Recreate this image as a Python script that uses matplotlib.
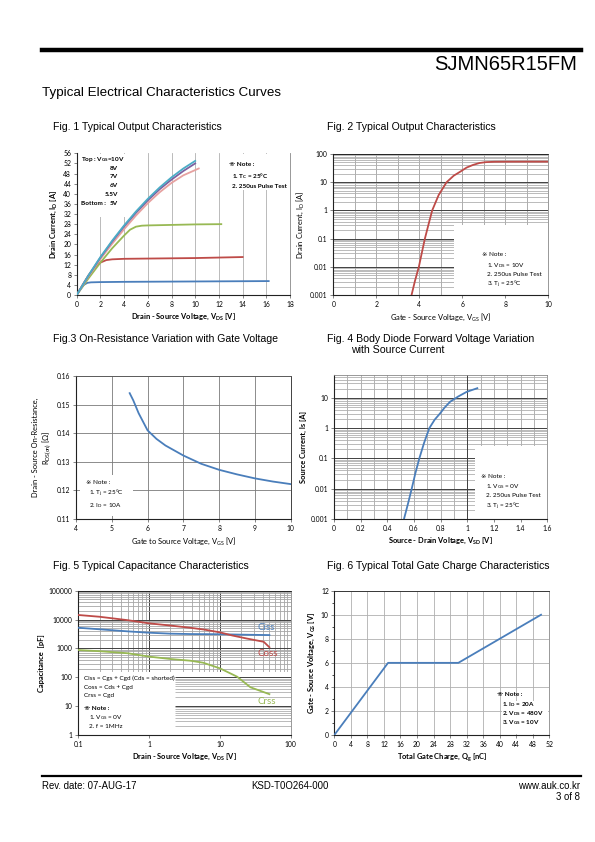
import matplotlib
matplotlib.use("Agg")
import matplotlib.pyplot as plt
from matplotlib.patches import Rectangle
from matplotlib.ticker import FixedLocator, NullFormatter, LogLocator

W, H = 595, 842

# ---- data ----
# Fig. 1 output characteristics (VDS [V], ID [A]) per VGS
f1_vds_10v = [0, 1, 2, 3, 4, 5, 6, 7, 8, 9, 10]
f1_id_10v = [0, 7.8, 15.0, 21.5, 27.5, 33.0, 38.0, 42.5, 46.5, 50.0, 53.0]
f1_vds_8v = [0, 1, 2, 3, 4, 5, 6, 7, 8, 9, 10]
f1_id_8v = [0, 7.7, 14.8, 21.2, 27.1, 32.5, 37.4, 41.8, 45.6, 49.0, 52.0]
f1_vds_7v = [0, 1, 2, 3, 4, 5, 6, 7, 8, 9, 10.3]
f1_id_7v = [0, 7.4, 14.2, 20.3, 26.0, 31.4, 36.3, 40.6, 44.3, 47.3, 50.0]
f1_vds_6v = [0, 1, 2, 3, 4, 4.5, 5, 5.5, 6, 8, 10, 12.2]
f1_id_6v = [0, 6.6, 12.8, 18.5, 23.5, 25.8, 27.0, 27.4, 27.5, 27.7, 27.9, 28.0]
f1_vds_55v = [0, 0.5, 1, 1.5, 2, 2.5, 3, 4, 6, 8, 10, 12, 14]
f1_id_55v = [0, 4.0, 7.8, 10.8, 12.8, 13.8, 14.1, 14.3, 14.4, 14.5, 14.6, 14.8, 15.0]
f1_vds_5v = [0, 0.3, 0.6, 0.9, 1.2, 2, 4, 8, 12, 16.2]
f1_id_5v = [0, 2.2, 4.0, 4.8, 5.0, 5.1, 5.2, 5.3, 5.4, 5.5]
f1_xticks = [0, 2, 4, 6, 8, 10, 12, 14, 16, 18]
f1_yticks = [0, 4, 8, 12, 16, 20, 24, 28, 32, 36, 40, 44, 48, 52, 56]

# Fig. 2 transfer characteristics
f2_vgs = [3.64, 3.8, 3.98, 4.12, 4.26, 4.43, 4.6, 4.9, 5.27, 5.6, 5.9, 6.2, 6.5, 6.8, 7.1, 7.5, 8, 9, 10]
f2_id = [0.001, 0.0032, 0.01, 0.032, 0.1, 0.32, 1, 3.5, 10, 17, 23.5, 33, 41, 48, 51.5, 53, 53.3, 53.5, 53.5]
f2_yticks = [0.001, 0.01, 0.1, 1, 10, 100]
f2_ylabels = ["0.001", "0.01", "0.1", "1", "10", "100"]

# Fig. 3 RDS(on) vs VGS
f3_vgs = [5.5, 5.6, 5.75, 6, 6.25, 6.5, 7, 7.5, 8, 8.5, 9, 9.5, 10]
f3_rds = [0.154, 0.1515, 0.147, 0.141, 0.138, 0.1357, 0.1322, 0.1293, 0.1272, 0.1256, 0.1242, 0.1231, 0.1222]
f3_yticks = [0.11, 0.12, 0.13, 0.14, 0.15, 0.16]

# Fig. 4 body diode
f4_vsd = [0.525, 0.555, 0.583, 0.61, 0.64, 0.675, 0.715, 0.755, 0.795, 0.83, 0.87, 0.93, 0.995, 1.075]
f4_is = [0.001, 0.0032, 0.01, 0.032, 0.1, 0.32, 1, 1.9, 3.05, 4.8, 7.4, 11, 15.8, 20.9]
f4_xticks = [0, 0.2, 0.4, 0.6, 0.8, 1, 1.2, 1.4, 1.6]
f4_xlabels = ["0", "0.2", "0.4", "0.6", "0.8", "1", "1.2", "1.4", "1.6"]
f4_yticks = [0.001, 0.01, 0.1, 1, 10]
f4_ylabels = ["0.001", "0.01", "0.1", "1", "10"]

# Fig. 5 capacitance
f5_vds_ciss = [0.1, 0.2, 0.5, 1, 2, 3.8, 10, 20, 50]
f5_ciss = [5200, 4600, 3900, 3500, 3250, 3150, 3100, 3000, 2900]
f5_vds_coss = [0.1, 0.2, 0.5, 1, 2, 3.8, 6, 10, 15, 24, 41.5, 50]
f5_coss = [14400, 12500, 9500, 7400, 6200, 5200, 4500, 3600, 2800, 2200, 1700, 1100]
f5_vds_crss = [0.1, 0.2, 0.5, 1, 2, 3.8, 5.8, 10, 17.5, 27, 50]
f5_crss = [880, 800, 680, 520, 430, 376, 320, 204, 105, 45, 26]
f5_xticks = [0.1, 1, 10, 100]
f5_xlabels = ["0.1", "1", "10", "100"]
f5_yticks = [1, 10, 100, 1000, 10000, 100000]
f5_ylabels = ["1", "10", "100", "1000", "10000", "100000"]

# Fig. 6 gate charge
f6_qg = [0, 13, 30, 50]
f6_vgs = [0, 6, 6, 10]
f6_xticks = list(range(0, 53, 4))
f6_yticks = [0, 2, 4, 6, 8, 10, 12]

BLUE = "#4a7ebb"
RED = "#be4b48"
GREEN = "#98b954"
PURPLE = "#7d60a0"
AQUA = "#4bacc6"
PINK = "#e6a1a0"

plt.rcParams["font.family"] = ["Lato", "DejaVu Sans"]
plt.rcParams["mathtext.default"] = "regular"
PAGE = ["Liberation Sans Narrow", "Liberation Sans", "DejaVu Sans"]

fig = plt.figure(figsize=(W / 100, H / 100), dpi=100)


def make_ax(l, t, r, b):
    return fig.add_axes([l / W, 1 - b / H, (r - l) / W, (b - t) / H])


def ftext(x, y, s, **kw):
    kw.setdefault("va", "center")
    fig.text(x / W, 1 - y / H, s, **kw)


def style(ax):
    ax.set_axisbelow(True)
    ax.tick_params(labelsize=4.9, length=2, width=0.5, pad=2, color="#555")
    for side in ["left", "bottom"]:
        ax.spines[side].set_color("#222")
        ax.spines[side].set_linewidth(0.8)
    for side in ["top", "right"]:
        ax.spines[side].set_color("#888")
        ax.spines[side].set_linewidth(0.6)


def white_box(ax, x0, y0, x1, y1):
    ax.add_patch(Rectangle((x0, y0), x1 - x0, y1 - y0, facecolor="white",
                           edgecolor="none", zorder=1))


# ---- page header / footer ----
fig.add_artist(plt.Line2D([42 / W, 581 / W], [1 - 50 / H, 1 - 50 / H], color="black", lw=3.2))
ftext(577, 64, "SJMN65R15FM", ha="right", fontsize=14.5, family=PAGE)
ftext(42, 93, "Typical Electrical Characteristics Curves", fontsize=9.6, family=PAGE)
fig.add_artist(plt.Line2D([42 / W, 581 / W], [1 - 776 / H, 1 - 776 / H], color="black", lw=1.6))
ftext(42, 786, "Rev. date: 07-AUG-17", fontsize=6.9, family=PAGE)
ftext(290, 786, "KSD-T0O264-000", ha="center", fontsize=6.9, family=PAGE)
ftext(580, 786, "www.auk.co.kr", ha="right", fontsize=6.9, family=PAGE)
ftext(580, 797, "3 of 8", ha="right", fontsize=6.9, family=PAGE)

title_fs = 7.6
ftext(53, 127, "Fig. 1 Typical Output Characteristics", fontsize=title_fs, family=PAGE)
ftext(327, 127, "Fig. 2 Typical Output Characteristics", fontsize=title_fs, family=PAGE)
ftext(53, 339, "Fig.3 On-Resistance Variation with Gate Voltage", fontsize=title_fs, family=PAGE)
ftext(327, 339, "Fig. 4 Body Diode Forward Voltage Variation", fontsize=title_fs, family=PAGE)
ftext(351, 350, "with Source Current", fontsize=title_fs, family=PAGE)
ftext(53, 566, "Fig. 5 Typical Capacitance Characteristics", fontsize=title_fs, family=PAGE)
ftext(327, 566, "Fig. 6 Typical Total Gate Charge Characteristics", fontsize=title_fs, family=PAGE)

note_fs = 4.6
lab_fs = 5.4

# ---- Fig. 1 ----
ax1 = make_ax(76.7, 153.3, 290, 295)
style(ax1)
ax1.spines["top"].set_visible(False)
ax1.set_xlim(0, 18)
ax1.set_ylim(0, 56)
ax1.set_xticks(f1_xticks)
ax1.set_yticks(f1_yticks)
ax1.grid(axis="x", color="#b0b0b0", lw=0.6)
white_box(ax1, 0.05, 31, 5.0, 55.9)
white_box(ax1, 12.3, 41.5, 17.95, 55.9)
ax1.plot(f1_vds_5v, f1_id_5v, color=BLUE, lw=1.3, zorder=3)
ax1.plot(f1_vds_55v, f1_id_55v, color=RED, lw=1.3, zorder=3)
ax1.plot(f1_vds_6v, f1_id_6v, color=GREEN, lw=1.3, zorder=3)
ax1.plot(f1_vds_7v, f1_id_7v, color=PINK, lw=1.3, zorder=3)
ax1.plot(f1_vds_8v, f1_id_8v, color=PURPLE, lw=1.3, zorder=3)
ax1.plot(f1_vds_10v, f1_id_10v, color=AQUA, lw=1.3, zorder=3)
ax1.set_xlabel("Drain - Source Voltage, V$_{DS}$ [V]", fontsize=lab_fs, fontweight="bold", labelpad=3)
ax1.set_ylabel("Drain Current, I$_D$ [A]", fontsize=lab_fs, fontweight="bold", labelpad=3)
ftext(81, 159.5, "Top : V$_{GS}$=10V", fontsize=note_fs, fontweight="bold")
for yy, s in zip([168.5, 177, 185.5, 194.5], ["8V", "7V", "6V", "5.5V"]):
    ftext(118, yy, s, ha="right", fontsize=note_fs, fontweight="bold")
ftext(81, 203.5, "Bottom :", fontsize=note_fs, fontweight="bold")
ftext(118, 203.5, "5V", ha="right", fontsize=note_fs, fontweight="bold")
ftext(229, 164, "※ Note :", fontsize=note_fs, fontweight="bold")
ftext(232, 176, "1. T$_C$ = 25°C", fontsize=note_fs, fontweight="bold")
ftext(232, 186, "2. 250us Pulse Test", fontsize=note_fs, fontweight="bold")

# ---- Fig. 2 ----
ax2 = make_ax(333.3, 154, 548.3, 295)
style(ax2)
ax2.spines["top"].set_color("#222")
ax2.set_yscale("log")
ax2.set_xlim(0, 10)
ax2.set_ylim(0.001, 100)
ax2.set_xticks([0, 2, 4, 6, 8, 10])
ax2.xaxis.set_minor_locator(FixedLocator(list(range(0, 11))))
ax2.set_yticks(f2_yticks, f2_ylabels)
ax2.yaxis.set_minor_locator(LogLocator(base=10, subs=range(2, 10), numticks=20))
ax2.yaxis.set_minor_formatter(NullFormatter())
ax2.tick_params(which="minor", length=0)
ax2.grid(axis="x", which="both", color="#a0a0a0", lw=0.6)
ax2.grid(axis="y", which="major", color="#404040", lw=0.7)
ax2.grid(axis="y", which="minor", color="#b0b0b0", lw=0.6)
white_box(ax2, 5.6, 0.00102, 9.98, 0.3)
ax2.plot(f2_vgs, f2_id, color=RED, lw=1.3, zorder=3)
ax2.set_xlabel("Gate - Source Voltage, V$_{GS}$ [V]", fontsize=lab_fs, labelpad=3)
ax2.set_ylabel("Drain Current, I$_D$ [A]", fontsize=lab_fs, labelpad=3)
ftext(482, 255, "※ Note :", fontsize=note_fs)
ftext(487, 266, "1. V$_{DS}$ = 10V", fontsize=note_fs)
ftext(487, 274.5, "2. 250us Pulse Test", fontsize=note_fs)
ftext(487, 284.5, "3. T$_j$ = 25°C", fontsize=note_fs)

# ---- Fig. 3 ----
ax3 = make_ax(76, 376, 290.7, 519)
style(ax3)
ax3.spines["top"].set_color("#555")
ax3.spines["right"].set_color("#222")
ax3.set_xlim(4, 10)
ax3.set_ylim(0.11, 0.16)
ax3.set_xticks(range(4, 11))
ax3.set_yticks(f3_yticks, [f"{v:.2f}" for v in f3_yticks])
ax3.grid(color="#7a7a7a", lw=0.6)
white_box(ax3, 4.12, 0.1112, 5.6, 0.1255)
ax3.plot(f3_vgs, f3_rds, color=BLUE, lw=1.3, zorder=3)
ax3.set_xlabel("Gate to Source Voltage, V$_{GS}$ [V]", fontsize=lab_fs, labelpad=3)
ax3.set_ylabel("Drain - Source On-Resistance,\nR$_{DS(on)}$ [Ω]", fontsize=lab_fs, labelpad=3,
               linespacing=1.1)
ftext(86, 483, "※ Note :", fontsize=note_fs)
ftext(89, 493.5, "1. T$_j$ = 25°C", fontsize=note_fs)
ftext(89, 505.5, "2. I$_D$ = 10A", fontsize=note_fs)

# ---- Fig. 4 ----
ax4 = make_ax(334, 375, 547.3, 519)
style(ax4)
ax4.set_yscale("log")
ax4.set_xlim(0, 1.6)
ax4.set_ylim(0.001, 57)
ax4.set_xticks(f4_xticks, f4_xlabels)
ax4.xaxis.set_minor_locator(FixedLocator([i / 10 for i in range(17)]))
ax4.set_yticks(f4_yticks, f4_ylabels)
ax4.yaxis.set_minor_locator(LogLocator(base=10, subs=range(2, 10), numticks=20))
ax4.yaxis.set_minor_formatter(NullFormatter())
ax4.tick_params(which="minor", length=0)
ax4.grid(axis="x", which="both", color="#a6a6a6", lw=0.6)
ax4.axvline(1.0, color="#404040", lw=0.7, zorder=0.6)
ax4.grid(axis="y", which="major", color="#404040", lw=0.7)
ax4.grid(axis="y", which="minor", color="#b0b0b0", lw=0.6)
white_box(ax4, 1.06, 0.00102, 1.595, 0.25)
ax4.plot(f4_vsd, f4_is, color=BLUE, lw=1.3, zorder=3)
ax4.set_xlabel("Source - Drain Voltage, V$_{SD}$ [V]", fontsize=lab_fs, fontweight="bold", labelpad=3)
ax4.set_ylabel("Source Current, Is [A]", fontsize=lab_fs, fontweight="bold", labelpad=3)
ftext(481, 477, "※ Note :", fontsize=note_fs)
ftext(486, 487, "1. V$_{GS}$ = 0V", fontsize=note_fs)
ftext(486, 496, "2. 250us Pulse Test", fontsize=note_fs)
ftext(486, 506, "3. T$_j$ = 25°C", fontsize=note_fs)

# ---- Fig. 5 ----
ax5 = make_ax(78.3, 590.7, 290.7, 735)
style(ax5)
ax5.spines["top"].set_color("#222")
ax5.set_xscale("log")
ax5.set_yscale("log")
ax5.set_xlim(0.1, 100)
ax5.set_ylim(1, 100000)
ax5.set_xticks(f5_xticks, f5_xlabels)
ax5.set_yticks(f5_yticks, f5_ylabels)
for a in (ax5.xaxis, ax5.yaxis):
    a.set_minor_locator(LogLocator(base=10, subs=range(2, 10), numticks=20))
    a.set_minor_formatter(NullFormatter())
ax5.tick_params(which="minor", length=0)
ax5.grid(which="major", color="#404040", lw=0.7)
ax5.grid(which="minor", color="#a6a6a6", lw=0.6)
white_box(ax5, 0.102, 1.02, 99, 150)
for yv in [2, 3, 4, 5, 6, 7, 8, 9, 10, 20, 30, 40, 50, 60, 70, 80, 90, 100]:
    ax5.hlines(yv, 2.3, 100, color="#404040" if yv in (10, 100) else "#b0b0b0",
               lw=0.7 if yv in (10, 100) else 0.6, zorder=1.2)
white_box(ax5, 0.102, 1.02, 2.3, 150)
ax5.plot(f5_vds_ciss, f5_ciss, color=BLUE, lw=1.3, zorder=3)
ax5.plot(f5_vds_coss, f5_coss, color=RED, lw=1.3, zorder=3)
ax5.plot(f5_vds_crss, f5_crss, color=GREEN, lw=1.3, zorder=3)
ax5.set_xlabel("Drain - Source Voltage, V$_{DS}$ [V]", fontsize=lab_fs, fontweight="bold", labelpad=3)
ax5.set_ylabel("Capacitance  [pF]", fontsize=lab_fs, fontweight="bold", labelpad=3)
ftext(257, 628, "Ciss", fontsize=7, color=BLUE)
ftext(257, 654, "Coss", fontsize=7, color=RED)
ftext(257, 701.5, "Crss", fontsize=7, color=GREEN)
ftext(84, 678.5, "Ciss = Cgs + Cgd (Cds = shorted)", fontsize=note_fs)
ftext(84, 687, "Coss = Cds + Cgd", fontsize=note_fs)
ftext(84, 695.5, "Crss = Cgd", fontsize=note_fs)
ftext(84, 708.5, "※ Note :", fontsize=note_fs, fontweight="bold")
ftext(89, 717.5, "1. V$_{GS}$ = 0V", fontsize=note_fs)
ftext(89, 726, "2. f = 1MHz", fontsize=note_fs)

# ---- Fig. 6 ----
ax6 = make_ax(334.3, 590.7, 549.3, 735)
style(ax6)
ax6.spines["top"].set_color("#222")
ax6.set_xlim(0, 52)
ax6.set_ylim(0, 12)
ax6.set_xticks(f6_xticks)
ax6.set_yticks(f6_yticks)
ax6.yaxis.set_minor_locator(FixedLocator(list(range(13))))
ax6.tick_params(which="minor", length=1.5, width=0.5)
ax6.grid(which="major", color="#b0b0b0", lw=0.6)
white_box(ax6, 40.5, 0.1, 51.8, 2.8)
ax6.plot(f6_qg, f6_vgs, color=BLUE, lw=1.3, zorder=3)
ax6.set_xlabel("Total Gate Charge, Q$_g$ [nC]", fontsize=lab_fs, fontweight="bold", labelpad=3)
ax6.set_ylabel("Gate - Source Voltage, V$_{GS}$ [V]", fontsize=lab_fs, fontweight="bold", labelpad=3)
ftext(497, 694, "※ Note :", fontsize=note_fs, fontweight="bold")
ftext(502, 705, "1. I$_D$ = 20A", fontsize=note_fs, fontweight="bold")
ftext(502, 714, "2. V$_{DS}$ = 480V", fontsize=note_fs, fontweight="bold")
ftext(502, 723, "3. V$_{GS}$ = 10V", fontsize=note_fs, fontweight="bold")

fig.savefig("out.png", dpi=100, facecolor="white")
